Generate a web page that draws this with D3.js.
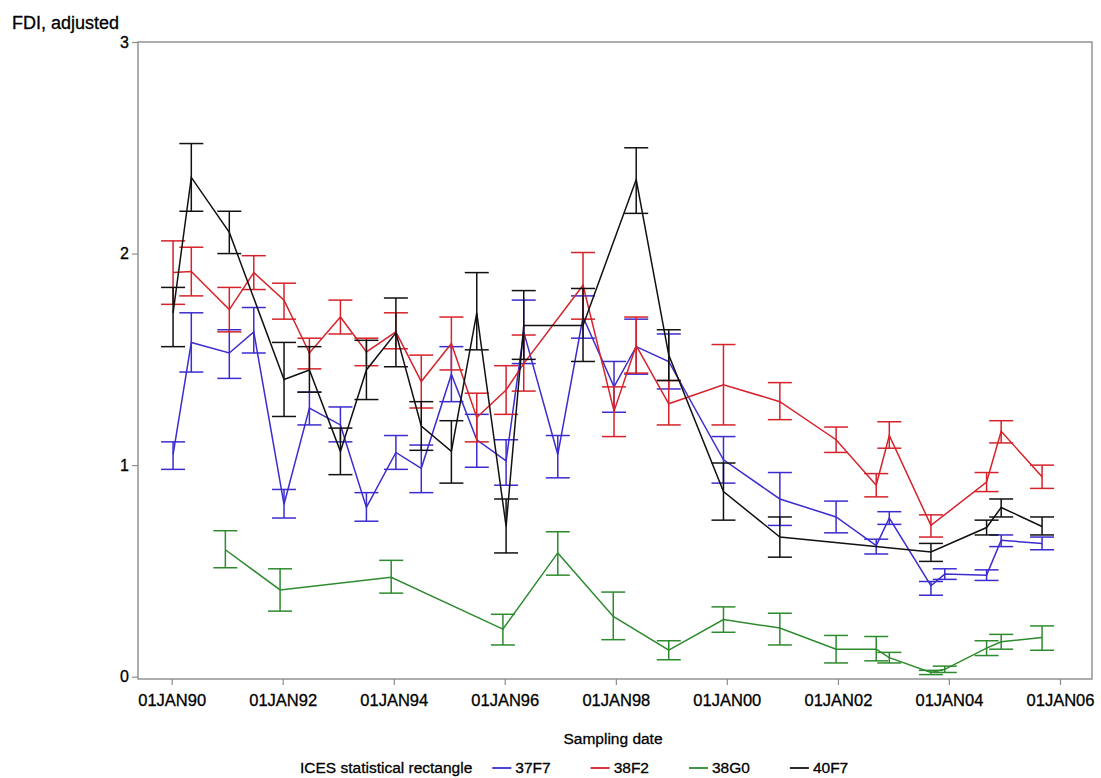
<!DOCTYPE html>
<html>
<head>
<meta charset="utf-8">
<script src="https://cdn.jsdelivr.net/npm/d3@7"></script>
<style>
  body { margin: 0; background: #fff; }
  text { font-family: "Liberation Sans", Arial, sans-serif; fill: #000; stroke: #000; stroke-width: 0.3px; }
</style>
</head>
<body>
<div id="chart"></div>
<script>
// rows: [sampling date, FDI adjusted, lower limit, upper limit]
var rect37F7 = [
  ["1990-01-10", 1.05, 0.98, 1.11],
  ["1990-05-10", 1.58, 1.44, 1.72],
  ["1991-01-15", 1.53, 1.41, 1.64],
  ["1991-06-25", 1.63, 1.53, 1.745],
  ["1992-01-10", 0.815, 0.75, 0.885],
  ["1992-06-25", 1.27, 1.19, 1.345],
  ["1993-01-15", 1.19, 1.11, 1.275],
  ["1993-07-05", 0.80, 0.735, 0.87],
  ["1994-01-15", 1.06, 0.98, 1.14],
  ["1994-07-01", 0.985, 0.87, 1.095],
  ["1995-01-15", 1.43, 1.30, 1.56],
  ["1995-07-01", 1.12, 0.99, 1.24],
  ["1996-01-10", 1.02, 0.905, 1.12],
  ["1996-05-05", 1.63, 1.48, 1.78],
  ["1996-12-15", 1.05, 0.94, 1.14],
  ["1997-05-30", 1.70, 1.60, 1.80],
  ["1997-12-20", 1.37, 1.25, 1.49],
  ["1998-05-15", 1.56, 1.43, 1.69],
  ["1998-12-15", 1.49, 1.36, 1.62],
  ["1999-12-10", 1.025, 0.915, 1.135],
  ["2000-12-15", 0.84, 0.715, 0.965],
  ["2001-12-20", 0.755, 0.68, 0.83],
  ["2002-09-10", 0.62, 0.58, 0.65],
  ["2002-12-05", 0.75, 0.72, 0.78],
  ["2003-09-05", 0.43, 0.385, 0.45],
  ["2003-12-05", 0.485, 0.46, 0.51],
  ["2004-09-05", 0.48, 0.455, 0.505],
  ["2004-12-10", 0.645, 0.615, 0.67],
  ["2005-09-05", 0.63, 0.60, 0.66]
];

var rect38F2 = [
  ["1990-01-10", 1.91, 1.76, 2.06],
  ["1990-05-10", 1.915, 1.80, 2.03],
  ["1991-01-15", 1.735, 1.63, 1.84],
  ["1991-06-25", 1.91, 1.83, 1.99],
  ["1992-01-10", 1.78, 1.69, 1.86],
  ["1992-06-25", 1.53, 1.455, 1.60],
  ["1993-01-15", 1.70, 1.62, 1.78],
  ["1993-07-05", 1.535, 1.47, 1.60],
  ["1994-01-15", 1.63, 1.55, 1.72],
  ["1994-07-01", 1.395, 1.27, 1.52],
  ["1995-01-15", 1.575, 1.45, 1.70],
  ["1995-07-01", 1.225, 1.11, 1.34],
  ["1996-01-10", 1.355, 1.24, 1.47],
  ["1996-05-05", 1.48, 1.35, 1.615],
  ["1997-05-30", 1.85, 1.69, 2.005],
  ["1997-12-20", 1.255, 1.135, 1.37],
  ["1998-05-15", 1.565, 1.435, 1.70],
  ["1998-12-15", 1.29, 1.19, 1.40],
  ["1999-12-10", 1.38, 1.19, 1.57],
  ["2000-12-15", 1.30, 1.215, 1.39],
  ["2001-12-20", 1.12, 1.06, 1.18],
  ["2002-09-10", 0.905, 0.85, 0.96],
  ["2002-12-05", 1.14, 1.08, 1.205],
  ["2003-09-05", 0.715, 0.66, 0.765],
  ["2004-09-05", 0.92, 0.875, 0.965],
  ["2004-12-10", 1.16, 1.105, 1.21],
  ["2005-09-05", 0.945, 0.89, 1.00]
];

var rect38G0 = [
  ["1990-12-20", 0.60, 0.515, 0.69],
  ["1991-12-15", 0.41, 0.31, 0.51],
  ["1993-12-15", 0.47, 0.395, 0.55],
  ["1995-12-20", 0.225, 0.15, 0.295],
  ["1996-12-15", 0.585, 0.48, 0.685],
  ["1997-12-15", 0.285, 0.175, 0.40],
  ["1998-12-15", 0.125, 0.08, 0.17],
  ["1999-12-10", 0.27, 0.21, 0.33],
  ["2000-12-15", 0.23, 0.15, 0.30],
  ["2001-12-20", 0.13, 0.065, 0.195],
  ["2002-09-10", 0.13, 0.075, 0.19],
  ["2002-12-05", 0.09, 0.065, 0.115],
  ["2003-09-05", 0.02, 0.01, 0.03],
  ["2003-12-05", 0.035, 0.02, 0.05],
  ["2004-09-05", 0.135, 0.10, 0.17],
  ["2004-12-10", 0.165, 0.13, 0.20],
  ["2005-09-05", 0.185, 0.125, 0.24]
];

var rect40F7 = [
  ["1990-01-10", 1.72, 1.56, 1.84],
  ["1990-05-10", 2.36, 2.20, 2.52],
  ["1991-01-15", 2.10, 2.00, 2.20],
  ["1992-01-10", 1.405, 1.23, 1.58],
  ["1992-06-25", 1.45, 1.345, 1.56],
  ["1993-01-15", 1.065, 0.955, 1.175],
  ["1993-07-05", 1.45, 1.31, 1.59],
  ["1994-01-15", 1.625, 1.465, 1.79],
  ["1994-07-01", 1.185, 1.07, 1.30],
  ["1995-01-15", 1.065, 0.915, 1.21],
  ["1995-07-01", 1.72, 1.545, 1.91],
  ["1996-01-10", 0.71, 0.585, 0.84],
  ["1996-05-05", 1.66, 1.50, 1.825],
  ["1997-05-30", 1.66, 1.49, 1.835],
  ["1998-05-15", 2.35, 2.19, 2.50],
  ["1998-12-15", 1.52, 1.40, 1.64],
  ["1999-12-10", 0.875, 0.74, 1.01],
  ["2000-12-15", 0.66, 0.565, 0.755],
  ["2003-09-05", 0.59, 0.545, 0.63],
  ["2004-09-05", 0.705, 0.67, 0.74],
  ["2004-12-10", 0.80, 0.755, 0.84],
  ["2005-09-05", 0.71, 0.67, 0.755]
];

var seriesNames = ["37F7", "38F2", "38G0", "40F7"];
var seriesData = [rect37F7, rect38F2, rect38G0, rect40F7];
var seriesColors = ["#3b2ccf", "#d6222a", "#2d8a2d", "#111111"];

var yTickValues = [0, 1, 2, 3];
var xTickYears = [1990, 1992, 1994, 1996, 1998, 2000, 2002, 2004, 2006];

var svgWidth = 1101;
var svgHeight = 778;

// frame of the plot area
var frame = { left: 138, top: 42, right: 1092, bottom: 679 };

var svg = d3.select("#chart")
  .append("svg")
  .attr("width", svgWidth)
  .attr("height", svgHeight);

var parseDate = d3.timeParse("%Y-%m-%d");
var fmtDate = d3.timeFormat("%d%b%y");

var xScale = d3.scaleTime()
  .domain([new Date(1990, 0, 1), new Date(2006, 0, 1)])
  .range([171.7, 1060]);

var yScale = d3.scaleLinear()
  .domain([0, 3])
  .range([frame.bottom - 2.3, frame.top]);

// frame
svg.append("rect")
  .attr("x", frame.left)
  .attr("y", frame.top)
  .attr("width", frame.right - frame.left)
  .attr("height", frame.bottom - frame.top)
  .attr("fill", "none")
  .attr("stroke", "#8c8c8c")
  .attr("stroke-width", 1.4);

// x axis
var bottomAxis = d3.axisBottom(xScale)
  .tickValues(xTickYears.map(y => new Date(y, 0, 1)))
  .tickSize(6)
  .tickPadding(9)
  .tickFormat(d => fmtDate(d).toUpperCase());

var xAxis = svg.append("g")
  .attr("transform", `translate(0, ${frame.bottom})`)
  .call(bottomAxis);

// y axis
var leftAxis = d3.axisLeft(yScale)
  .tickValues(yTickValues)
  .tickSize(6)
  .tickPadding(3)
  .tickFormat(d3.format("d"));

var yAxis = svg.append("g")
  .attr("transform", `translate(${frame.left}, 0)`)
  .call(leftAxis);

[xAxis, yAxis].forEach(function(ax) {
  ax.select(".domain").remove();
  ax.selectAll(".tick line").attr("stroke", "#8c8c8c").attr("stroke-width", 1.2);
  ax.selectAll(".tick text")
    .attr("fill", "#000")
    .style("font-family", "'Liberation Sans', Arial, sans-serif");
});
xAxis.selectAll(".tick text").style("font-size", "16.5px");
yAxis.selectAll(".tick text").style("font-size", "16px");

// axis titles
svg.append("text")
  .attr("x", 12)
  .attr("y", 29)
  .style("font-size", "18px")
  .text("FDI, adjusted");

svg.append("text")
  .attr("x", 613)
  .attr("y", 744)
  .attr("text-anchor", "middle")
  .style("font-size", "15.5px")
  .text("Sampling date");

// series lines and error bars
var line = d3.line()
  .x(d => xScale(parseDate(d[0])))
  .y(d => yScale(d[1]));

var capHalf = 12;

seriesData.forEach(function(rows, i) {
  var g = svg.append("g")
    .attr("stroke", seriesColors[i])
    .attr("stroke-width", 1.5)
    .attr("fill", "none");

  g.append("path")
    .attr("d", line(rows));

  var bars = g.selectAll(".bar")
    .data(rows)
    .enter()
    .append("g")
    .attr("class", "bar");

  bars.append("line")
    .attr("x1", d => xScale(parseDate(d[0])))
    .attr("x2", d => xScale(parseDate(d[0])))
    .attr("y1", d => yScale(d[2]))
    .attr("y2", d => yScale(d[3]));

  bars.append("line")
    .attr("x1", d => xScale(parseDate(d[0])) - capHalf)
    .attr("x2", d => xScale(parseDate(d[0])) + capHalf)
    .attr("y1", d => yScale(d[3]))
    .attr("y2", d => yScale(d[3]));

  bars.append("line")
    .attr("x1", d => xScale(parseDate(d[0])) - capHalf)
    .attr("x2", d => xScale(parseDate(d[0])) + capHalf)
    .attr("y1", d => yScale(d[2]))
    .attr("y2", d => yScale(d[2]));
});

// legend
var legend = svg.append("g")
  .attr("transform", "translate(300, 773)");

var legendTitle = legend.append("text")
  .attr("x", 0)
  .attr("y", 0)
  .style("font-size", "15.5px")
  .text("ICES statistical rectangle");

var lx = legendTitle.node().getComputedTextLength() + 20;

seriesNames.forEach(function(name, i) {
  legend.append("line")
    .attr("x1", lx)
    .attr("x2", lx + 19)
    .attr("y1", -5)
    .attr("y2", -5)
    .attr("stroke", seriesColors[i])
    .attr("stroke-width", 1.8);

  var t = legend.append("text")
    .attr("x", lx + 23)
    .attr("y", 0)
    .style("font-size", "15.5px")
    .text(name);

  lx = lx + 23 + t.node().getComputedTextLength() + 40;
});
</script>
</body>
</html>
